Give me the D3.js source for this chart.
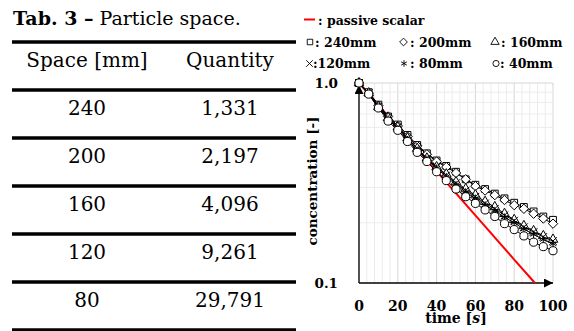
<!DOCTYPE html>
<html>
<head>
<meta charset="utf-8">
<script src="https://cdn.jsdelivr.net/npm/d3@7"></script>
<style>
  body { margin: 0; background: #fff; }
  svg { display: block; }
</style>
</head>
<body>
<script>
// table data
const spaceMm = ['240', '200', '160', '120', '80'];
const quantity = ['1,331', '2,197', '4,096', '9,261', '29,791'];

// chart data
const time = [0, 5, 10, 15, 20, 25, 30, 35, 40, 45, 50, 55, 60, 65, 70, 75, 80, 85, 90, 95, 100];
const c240 = [1.00, 0.90, 0.78, 0.68, 0.62, 0.55, 0.49, 0.445, 0.41, 0.385, 0.36, 0.33, 0.31, 0.295, 0.28, 0.265, 0.252, 0.24, 0.228, 0.215, 0.207];
const c200 = [1.00, 0.89, 0.77, 0.68, 0.61, 0.54, 0.485, 0.44, 0.405, 0.38, 0.355, 0.33, 0.305, 0.29, 0.275, 0.26, 0.245, 0.235, 0.222, 0.21, 0.198];
const c160 = [1.00, 0.89, 0.76, 0.67, 0.60, 0.53, 0.47, 0.42, 0.38, 0.35, 0.32, 0.295, 0.275, 0.255, 0.24, 0.222, 0.207, 0.193, 0.182, 0.172, 0.165];
const c120 = [1.00, 0.89, 0.76, 0.66, 0.60, 0.53, 0.47, 0.42, 0.38, 0.345, 0.315, 0.29, 0.27, 0.25, 0.235, 0.218, 0.205, 0.19, 0.18, 0.17, 0.162];
const c80  = [1.00, 0.88, 0.75, 0.66, 0.59, 0.52, 0.46, 0.415, 0.375, 0.34, 0.31, 0.285, 0.265, 0.245, 0.23, 0.213, 0.20, 0.186, 0.175, 0.165, 0.157];
const c40  = [1.00, 0.88, 0.75, 0.645, 0.58, 0.51, 0.45, 0.405, 0.36, 0.325, 0.295, 0.27, 0.25, 0.232, 0.215, 0.198, 0.185, 0.172, 0.16, 0.152, 0.145];
const passiveTime = [0, 20, 40, 60, 80, 90.7];
const passiveConc = [1.0, 0.602, 0.362, 0.218, 0.131, 0.1];
const xTicks = [0, 20, 40, 60, 80, 100];
const yTicks = [0.1, 1.0];

const width = 574;
const height = 331;
const serif = "'DejaVu Serif', serif";

const svg = d3.select('body')
  .append('svg')
  .attr('width', width)
  .attr('height', height);

// ---------- table ----------
const tbl = svg.append('g').style('font-family', serif);

const title = tbl.append('text')
  .attr('x', 13)
  .attr('y', 25)
  .style('font-size', '19px');
title.append('tspan').attr('font-weight', 'bold').text('Tab. 3 –');
title.append('tspan').text(' Particle space.');

const rowLine = d3.scaleLinear().domain([0, 6]).range([42, 330]);
const colX = [87, 230];

tbl.selectAll('line.rule')
  .data(d3.range(7))
  .join('line')
  .attr('class', 'rule')
  .attr('x1', 12)
  .attr('x2', 296)
  .attr('y1', d => rowLine(d))
  .attr('y2', d => rowLine(d))
  .attr('stroke', '#000')
  .attr('stroke-width', 3.5);

const rows = [['Space [mm]', 'Quantity']].concat(spaceMm.map((s, i) => [s, quantity[i]]));
rows.forEach((r, i) => {
  r.forEach((cell, j) => {
    tbl.append('text')
      .attr('x', colX[j])
      .attr('y', rowLine(i) + 25)
      .attr('text-anchor', 'middle')
      .style('font-size', '20px')
      .text(cell);
  });
});

// ---------- chart ----------
const x = d3.scaleLinear().domain([0, 100]).range([359, 553]);
const y = d3.scaleLog().domain([0.1, 1]).range([283, 83]);

const chart = svg.append('g');

// grid
const vGrid = d3.range(0, 101, 4);
chart.append('g')
  .selectAll('line')
  .data(vGrid)
  .join('line')
  .attr('x1', d => x(d))
  .attr('x2', d => x(d))
  .attr('y1', y(0.1))
  .attr('y2', y(1))
  .attr('stroke', d => d % 20 === 0 ? '#d6d6d6' : '#ececec')
  .attr('stroke-width', 1);

const hGrid = [0.2, 0.3, 0.4, 0.5, 0.6, 0.7, 0.8, 0.9, 1.0];
chart.append('g')
  .selectAll('line')
  .data(hGrid)
  .join('line')
  .attr('x1', x(0))
  .attr('x2', x(100))
  .attr('y1', d => y(d))
  .attr('y2', d => y(d))
  .attr('stroke', d => d === 1.0 ? '#d6d6d6' : '#ececec')
  .attr('stroke-width', 1);

// arrow marker
svg.append('defs').append('marker')
  .attr('id', 'arrow')
  .attr('viewBox', '0 0 10 10')
  .attr('refX', 10)
  .attr('refY', 5)
  .attr('markerWidth', 10)
  .attr('markerHeight', 9)
  .attr('markerUnits', 'userSpaceOnUse')
  .attr('orient', 'auto')
  .append('path')
  .attr('d', 'M0,0L10,5L0,10Z')
  .attr('fill', '#000');

chart.append('line')
  .attr('x1', x(0)).attr('x2', x(100))
  .attr('y1', y(0.1)).attr('y2', y(0.1))
  .attr('stroke', '#000').attr('stroke-width', 1.3)
  .attr('marker-end', 'url(#arrow)');
chart.append('line')
  .attr('x1', x(0)).attr('x2', x(0))
  .attr('y1', y(0.1)).attr('y2', y(1) + 2)
  .attr('stroke', '#000').attr('stroke-width', 1.3)
  .attr('marker-end', 'url(#arrow)');

// tick labels
chart.append('g')
  .selectAll('text')
  .data(xTicks)
  .join('text')
  .attr('x', d => x(d))
  .attr('y', 311)
  .attr('text-anchor', 'middle')
  .style('font-family', serif)
  .style('font-weight', 'bold')
  .style('font-size', '14px')
  .text(d => d);

chart.append('g')
  .selectAll('text')
  .data(yTicks)
  .join('text')
  .attr('x', 338)
  .attr('y', d => y(d))
  .attr('dy', '0.36em')
  .attr('text-anchor', 'end')
  .style('font-family', serif)
  .style('font-weight', 'bold')
  .style('font-size', '13.5px')
  .text(d => d.toFixed(1));

// axis titles
chart.append('text')
  .attr('transform', 'translate(317,181) rotate(-90)')
  .attr('text-anchor', 'middle')
  .style('font-family', serif)
  .style('font-weight', 'bold')
  .style('font-size', '13.5px')
  .text('concentration [-]');

const xt = chart.append('text')
  .attr('x', 456)
  .attr('y', 323)
  .attr('text-anchor', 'middle')
  .style('font-family', serif)
  .style('font-weight', 'bold')
  .style('font-size', '14px');
xt.append('tspan').text('time [');
xt.append('tspan').style('font-style', 'italic').text('s');
xt.append('tspan').text(']');

// passive scalar
const passive = passiveTime.map((t, i) => [t, passiveConc[i]]);
chart.append('path')
  .datum(passive)
  .attr('fill', 'none')
  .attr('stroke', '#ff0000')
  .attr('stroke-width', 2)
  .attr('d', d3.line().x(d => x(d[0])).y(d => y(d[1])));

// square-ish diamond (rotated square)
const symbolRhomb = {
  draw(ctx, size) {
    const r = Math.sqrt(size / 2);
    ctx.moveTo(0, -r);
    ctx.lineTo(r, 0);
    ctx.lineTo(0, r);
    ctx.lineTo(-r, 0);
    ctx.closePath();
  }
};

// particle series
const series = [
  { name: '240mm', vals: c240, sym: d3.symbolSquare, size: 46, stroke: false },
  { name: '200mm', vals: c200, sym: symbolRhomb, size: 44, stroke: false },
  { name: '160mm', vals: c160, sym: d3.symbolTriangle, size: 40, stroke: false },
  { name: '120mm', vals: c120, sym: d3.symbolX, size: 40, stroke: true },
  { name: '80mm', vals: c80, sym: d3.symbolAsterisk, size: 40, stroke: true },
  { name: '40mm', vals: c40, sym: d3.symbolCircle, size: 52, stroke: false }
];

const line = d3.line().x(d => x(d[0])).y(d => y(d[1]));

series.forEach(s => {
  const pts = time.map((t, i) => [t, s.vals[i]]);
  const g = chart.append('g');
  g.append('path')
    .datum(pts)
    .attr('fill', 'none')
    .attr('stroke', '#000')
    .attr('stroke-width', 1)
    .attr('d', line);
  g.selectAll('path.pt')
    .data(pts)
    .join('path')
    .attr('class', 'pt')
    .attr('transform', d => `translate(${x(d[0])},${y(d[1])})`)
    .attr('d', d3.symbol().type(s.sym).size(s.size))
    .attr('fill', s.stroke ? 'none' : '#fff')
    .attr('stroke', '#000')
    .attr('stroke-width', 1);
});

// ---------- legend ----------
const leg = svg.append('g')
  .style('font-family', serif)
  .style('font-weight', 'bold')
  .style('font-size', '12.5px');

leg.append('line')
  .attr('x1', 304).attr('x2', 315)
  .attr('y1', 19.5).attr('y2', 19.5)
  .attr('stroke', '#ff0000').attr('stroke-width', 2);
leg.append('text').attr('x', 318).attr('y', 25).text(': passive scalar');

const legPos = [
  { sx: 310, tx: 315, ty: 46.5, label: ': 240mm' },
  { sx: 403.5, tx: 410, ty: 46.5, label: ': 200mm' },
  { sx: 495, tx: 501, ty: 46.5, label: ': 160mm' },
  { sx: 309.5, tx: 313, ty: 68, label: ':120mm' },
  { sx: 404, tx: 410, ty: 68, label: ': 80mm' },
  { sx: 496, tx: 500, ty: 68, label: ': 40mm' }
];

series.forEach((s, i) => {
  const p = legPos[i];
  leg.append('path')
    .attr('transform', `translate(${p.sx},${p.ty - 4.5})`)
    .attr('d', d3.symbol().type(s.sym).size(30))
    .attr('fill', 'none')
    .attr('stroke', '#000')
    .attr('stroke-width', 0.9);
  leg.append('text').attr('x', p.tx).attr('y', p.ty).text(p.label);
});
</script>
</body>
</html>
